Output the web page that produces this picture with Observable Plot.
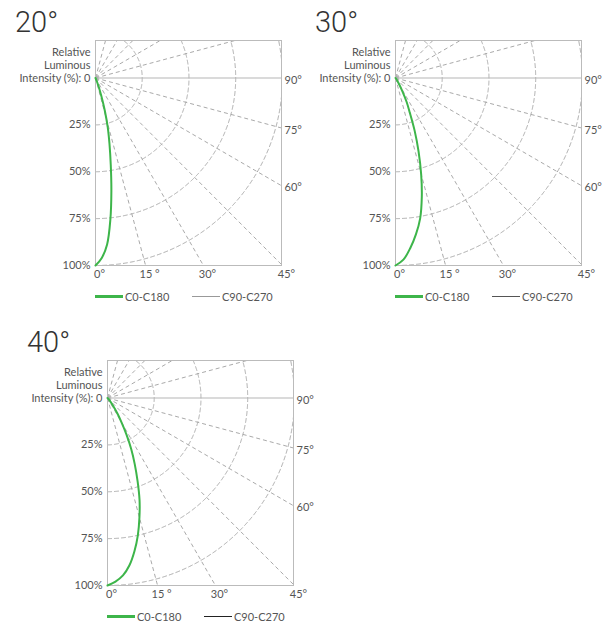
<!DOCTYPE html>
<html><head><meta charset="utf-8">
<script src="https://cdn.jsdelivr.net/npm/d3@7"></script>
<script src="https://cdn.jsdelivr.net/npm/@observablehq/plot@0.6"></script>
<style>
body{margin:0;background:#fff;}
#root{position:relative;width:612px;height:624px;overflow:hidden;font-family:Lato,"Open Sans",sans-serif;}
.title{position:absolute;font-family:Roboto,sans-serif;font-weight:300;font-size:29px;color:#333;line-height:1;white-space:nowrap;}
.lg{position:absolute;font-size:11px;color:#555;line-height:1;white-space:nowrap;}
.sw{position:absolute;width:28px;}
.panel{position:absolute;}
</style></head><body><div id="root"></div>
<script>
// ---- data ----
const panelTitles = ["20°", "30°", "40°"];
const angles20 = [0, 2, 4, 6, 8, 10, 12, 14, 16, 18, 20, 22, 25];
const intensity20 = [100, 96, 89, 76, 61, 47, 36, 27, 18, 10, 5, 2, 0];
const angles30 = [0, 2.5, 5, 7.5, 10, 12.5, 15, 17.5, 20, 22.5, 25, 27.5, 30, 35, 40];
const intensity30 = [100, 97, 91, 84, 76, 65, 53, 41, 30, 20, 14, 8, 4, 1, 0];
const angles40 = [0, 2.5, 5, 7.5, 10, 12.5, 15, 17.5, 20, 22.5, 25, 27.5, 30, 32.5, 35, 40, 45];
const intensity40 = [100, 98, 95, 90, 83, 75, 66, 57, 47, 38, 30, 22, 15, 10, 6, 2, 0];
const radiusTicks = [0, 0.25, 0.5, 0.75, 1];
const radiusLabels = ["Intensity (%): 0", "25%", "50%", "75%", "100%"];
const rayAngles = [0, 15, 30, 45, 60, 75, 105, 120, 135, 150, 165];
const bottomAngles = [0, 15, 30, 45];
const bottomLabels = ["0°", "15 °", "30°", "45°"];
const rightAngles = [90, 75, 60];
const rightLabels = ["90°", "75°", "60°"];
const legendLabels = ["C0-C180", "C90-C270"];
const legendColors = ["#999", "#555", "#222"];

const panels = [
  {title: panelTitles[0], angles: angles20, values: intensity20, left: 0, top: 0, c90: legendColors[0]},
  {title: panelTitles[1], angles: angles30, values: intensity30, left: 300, top: 0, c90: legendColors[1]},
  {title: panelTitles[2], angles: angles40, values: intensity40, left: 12, top: 320, c90: legendColors[2]}
];

const GREEN = "#3db54a", GRID = "#aaa";
const XMAX = 0.995, YMIN = -0.2, YMAX = 1;
const rad = a => a * Math.PI / 180;

function rayEnd(a) {
  const s = Math.sin(rad(a)), c = Math.cos(rad(a));
  let t = Infinity;
  if (s > 1e-9) t = Math.min(t, XMAX / s);
  if (c > 1e-9) t = Math.min(t, YMAX / c);
  if (c < -1e-9) t = Math.min(t, YMIN / c);
  return {a, x1: 0, y1: 0, x2: t * s, y2: t * c};
}
const rays = rayAngles.map(rayEnd);
const arcPts = [];
for (const r of radiusTicks.slice(1)) {
  for (const a of d3.range(0, 180.01, 0.25)) {
    const x = r * Math.sin(rad(a)), y = r * Math.cos(rad(a));
    const inside = x <= XMAX && y >= YMIN;
    arcPts.push({r, x: inside ? x : NaN, y: inside ? y : NaN});
  }
}

const root = document.getElementById("root");
const ML = 95, MT = 40, W = 306, H = 310;

for (const p of panels) {
  const curve = p.angles.map((a, i) => ({x: p.values[i] / 100 * Math.sin(rad(a)), y: p.values[i] / 100 * Math.cos(rad(a))}));
  const chart = Plot.plot({
    width: W, height: H,
    marginLeft: ML, marginTop: MT, marginRight: W - ML - 186, marginBottom: H - MT - 225,
    style: {fontFamily: "Lato, 'Open Sans', sans-serif", fontSize: "11px", color: "#555", background: "transparent", overflow: "visible"},
    x: {domain: [0, XMAX], axis: null},
    y: {domain: [YMIN, YMAX], reverse: true, axis: null},
    marks: [
      Plot.line(arcPts, {x: "x", y: "y", z: "r", stroke: GRID, strokeWidth: 1, strokeDasharray: "4,3", clip: true}),
      Plot.link(rays, {x1: "x1", y1: "y1", x2: "x2", y2: "y2", stroke: GRID, strokeWidth: 1, strokeDasharray: "4,3", clip: true}),
      Plot.ruleY([0], {x1: 0, x2: XMAX, stroke: "#b5b5b5", strokeWidth: 1}),
      Plot.frame({stroke: "#bbb", strokeWidth: 1}),
      Plot.line(curve, {x: "x", y: "y", stroke: GREEN, strokeWidth: 2, curve: "catmull-rom"}),
      Plot.text(radiusTicks, {x: 0, y: d => d, text: (d, i) => radiusLabels[i], textAnchor: "end", dx: -5, fill: "#555"}),
      Plot.text(["Relative\nLuminous"], {x: 0, y: 0, text: d => d, textAnchor: "end", dx: -5, dy: -20, lineHeight: 1.2, fill: "#555"}),
      Plot.text(bottomAngles, {x: d => YMAX * Math.tan(rad(d)), y: YMAX, text: (d, i) => bottomLabels[i], dx: 4, dy: 9, fill: "#555"}),
      Plot.text(rightAngles, {x: XMAX, y: d => XMAX / Math.tan(rad(d)), text: (d, i) => rightLabels[i], textAnchor: "start", dx: 3, dy: 2, fill: "#555"})
    ]
  });
  const div = document.createElement("div");
  div.className = "panel";
  div.style.left = p.left + "px";
  div.style.top = p.top + "px";
  div.appendChild(chart);
  root.appendChild(div);

  const t = document.createElement("div");
  t.className = "title";
  t.textContent = p.title;
  t.style.left = (p.left + 15) + "px";
  t.style.top = (p.top + 8) + "px";
  root.appendChild(t);

  const ox = p.left + ML, oy = p.top + 77.5 + 219;
  const items = [
    {color: GREEN, h: 2.5, dx: 0, label: legendLabels[0]},
    {color: p.c90, h: 1.2, dx: 97, label: legendLabels[1]}
  ];
  for (const it of items) {
    const sw = document.createElement("div");
    sw.className = "sw";
    sw.style.left = (ox + it.dx) + "px";
    sw.style.top = (oy - it.h / 2) + "px";
    sw.style.height = it.h + "px";
    sw.style.background = it.color;
    root.appendChild(sw);
    const lb = document.createElement("div");
    lb.className = "lg";
    lb.textContent = it.label;
    lb.style.left = (ox + it.dx + 30) + "px";
    lb.style.top = (oy - 6) + "px";
    root.appendChild(lb);
  }
}
</script></body></html>
